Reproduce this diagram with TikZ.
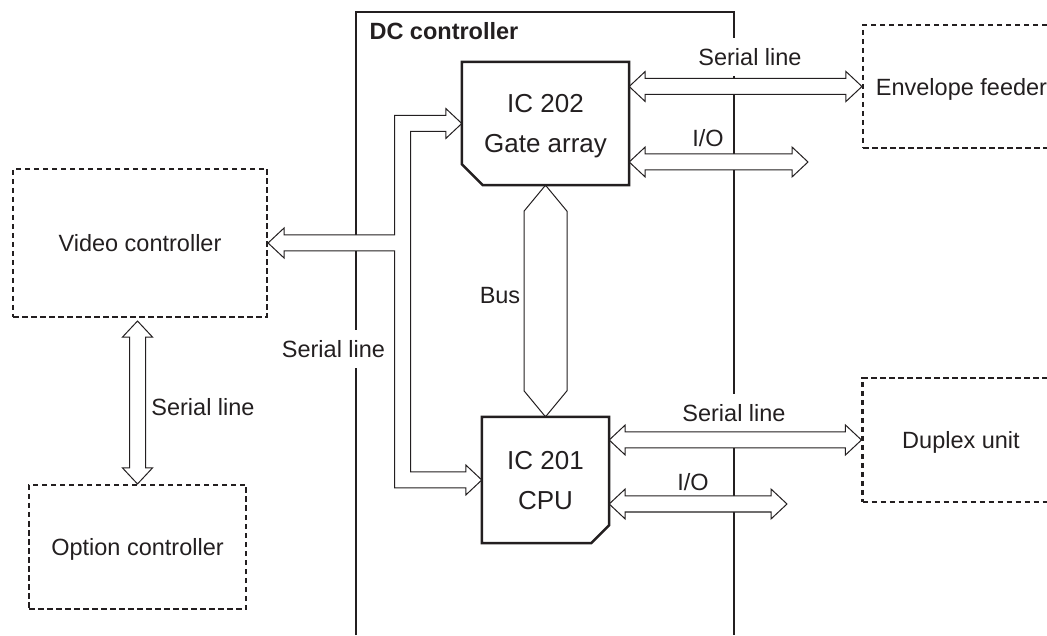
\documentclass[tikz,border=0pt]{standalone}
\usepackage{fontspec}
\setmainfont{Liberation Sans}
\usetikzlibrary{calc}
\definecolor{ink}{HTML}{231F20}

\begin{document}
\begin{tikzpicture}[x=1pt,y=1pt,line join=miter,
  every node/.style={text=ink,font=\fontsize{23.5}{28}\selectfont},
  wall/.style={draw=ink,line width=2.3pt},
  chip/.style={align=center,text depth=0pt,font=\fontsize{26}{40}\selectfont},
  chipline/.style={draw=ink,line width=2.5pt},
  ext/.style={draw=ink,line width=2.1pt,dash pattern=on 5.5pt off 3.5pt,text depth=0pt},
  pipe/.style={draw=ink,fill=white,line width=1pt},
  mask/.style={fill=white,inner xsep=1pt,inner ysep=10pt}]

\def\pipehl{16pt} %head length
\def\pipehw{15pt} %head half width
\def\pipesw{8pt} %shaft half width

% horizontal pipe, tip to tip
\def\hpipe#1#2{\draw[pipe] let \p1=(#1), \p2=(#2) in
  (\p1) -- (\x1+\pipehl,\y1+\pipehw) -- (\x1+\pipehl,\y1+\pipesw) -- (\x2-\pipehl,\y1+\pipesw)
  -- (\x2-\pipehl,\y2+\pipehw) -- (\p2) -- (\x2-\pipehl,\y2-\pipehw) -- (\x2-\pipehl,\y1-\pipesw)
  -- (\x1+\pipehl,\y1-\pipesw) -- (\x1+\pipehl,\y1-\pipehw) -- cycle;}
% vertical pipe, top tip to bottom tip
\def\vpipe#1#2{\draw[pipe] let \p1=(#1), \p2=(#2) in
  (\p1) -- (\x1+\pipehw,\y1-\pipehl) -- (\x1+\pipesw,\y1-\pipehl) -- (\x1+\pipesw,\y2+\pipehl)
  -- (\x1+\pipehw,\y2+\pipehl) -- (\p2) -- (\x1-\pipehw,\y2+\pipehl) -- (\x1-\pipesw,\y2+\pipehl)
  -- (\x1-\pipesw,\y1-\pipehl) -- (\x1-\pipehw,\y1-\pipehl) -- cycle;}

\useasboundingbox (0,0) rectangle (1047,635);

%dc controller
\draw[wall] (356,0) -- (356,623) -- (734,623) -- (734,0);
\node[anchor=west,font=\fontsize{23.5}{28}\selectfont\bfseries] (dctitle) at (366,604) {DC controller};

%chips
\node[chip,minimum width=167pt,minimum height=123pt] (gate) at (545.5,511.5) {IC 202\\Gate array};
\node[chip,minimum width=127pt,minimum height=126pt] (cpu) at (545.5,155) {IC 201\\CPU};

%outside units
\node[ext,minimum width=254pt,minimum height=148pt] (video) at (140,392) {Video controller};
\node[ext,minimum width=217pt,minimum height=124pt] (option) at (137.5,88) {Option controller};
\node[ext,minimum width=197pt,minimum height=123pt] (envelope) at (961.5,548.5) {Envelope feeder};
\node[ext,minimum width=197pt,minimum height=124pt] (duplex) at (961,195) {Duplex unit};

%labels
\node[mask] (sl1) at (750,578) {Serial line};
\node (io1) at (708,497) {I/O};
\node[mask] (sl2) at (734,222) {Serial line};
\node (io2) at (693,153) {I/O};
\node[mask] (sl3) at (333.5,286) {Serial line};
\node (sl4) at (203,228) {Serial line};
\node (buslbl) at (500,339) {Bus};

%free ends
\coordinate (gio) at (808,473);
\coordinate (cio) at (787,131);
\coordinate (trunk) at (402.5,0);
\coordinate (vtip) at ($(option.north |- video.south)+(0,-3)$);

%pipes
\hpipe{gate.east |- envelope.west}{envelope.west}
\hpipe{gate.east |- gio}{gio}
\hpipe{cpu.east |- duplex.west}{duplex.west}
\hpipe{cpu.east |- cio}{cio}
\vpipe{vtip}{option.north}

%bus
\draw[pipe] (gate.south) -- ++(21.5,-26) -- ($(cpu.north)+(21.5,26)$) -- (cpu.north)
  -- ($(cpu.north)+(-21.5,26)$) -- ($(gate.south)+(-21.5,-26)$) -- cycle;

%serial line to video controller, branching to both chips
\draw[pipe] let \p1=(gate.west), \p2=(video.east), \p3=(cpu.west), \p4=(trunk) in
  (\p1) -- (\x1-\pipehl,\y1+\pipehw) -- (\x1-\pipehl,\y1+\pipesw) -- (\x4-\pipesw,\y1+\pipesw)
  -- (\x4-\pipesw,\y2+\pipesw) -- (\x2+\pipehl,\y2+\pipesw) -- (\x2+\pipehl,\y2+\pipehw) -- (\p2)
  -- (\x2+\pipehl,\y2-\pipehw) -- (\x2+\pipehl,\y2-\pipesw) -- (\x4-\pipesw,\y2-\pipesw)
  -- (\x4-\pipesw,\y3-\pipesw) -- (\x3-\pipehl,\y3-\pipesw) -- (\x3-\pipehl,\y3-\pipehw) -- (\p3)
  -- (\x3-\pipehl,\y3+\pipehw) -- (\x3-\pipehl,\y3+\pipesw) -- (\x4+\pipesw,\y3+\pipesw)
  -- (\x4+\pipesw,\y1-\pipesw) -- (\x1-\pipehl,\y1-\pipesw) -- (\x1-\pipehl,\y1-\pipehw) -- cycle;

%chip outlines
\draw[chipline] (gate.north west) -- (gate.north east) -- (gate.south east)
  -- ($(gate.south west)+(21,0)$) -- ($(gate.south west)+(0,21)$) -- cycle;
\draw[chipline] (cpu.north west) -- (cpu.north east) -- ($(cpu.south east)+(0,18)$)
  -- ($(cpu.south east)+(-18,0)$) -- (cpu.south west) -- cycle;
\end{tikzpicture}
\end{document}
